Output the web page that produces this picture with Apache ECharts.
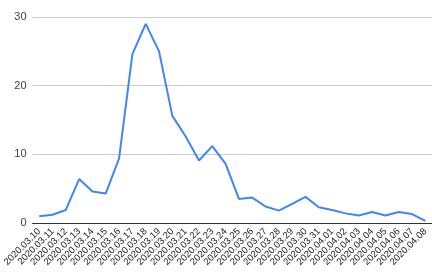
<!DOCTYPE html>
<html><head><meta charset="utf-8">
<script src="https://cdn.jsdelivr.net/npm/echarts@6/dist/echarts.min.js"></script>
<style>html,body{margin:0;padding:0;background:#fff}#c{width:432px;height:276px}</style>
</head><body><div id="c"></div>
<script>
var categories = ["2020.03.10","2020.03.11","2020.03.12","2020.03.13","2020.03.14","2020.03.15","2020.03.16","2020.03.17","2020.03.18","2020.03.19","2020.03.20","2020.03.21","2020.03.22","2020.03.23","2020.03.24","2020.03.25","2020.03.26","2020.03.27","2020.03.28","2020.03.29","2020.03.30","2020.03.31","2020.04.01","2020.04.02","2020.04.03","2020.04.04","2020.04.05","2020.04.06","2020.04.07","2020.04.08"];
var values = [1.0,1.2,1.9,6.4,4.6,4.3,9.4,24.6,29.0,25.0,15.6,12.6,9.1,11.2,8.6,3.5,3.7,2.4,1.8,2.8,3.8,2.3,1.9,1.4,1.1,1.6,1.1,1.6,1.3,0.3];
var yTicks = [0,10,20,30];
var chart = echarts.init(document.getElementById('c'));
chart.setOption({
  animation:false,
  grid:{left:28,right:0,top:17,bottom:53,containLabel:false},
  xAxis:{type:'category',data:categories,boundaryGap:true,
    axisLine:{lineStyle:{color:'#333',width:1}},
    axisTick:{show:false},
    axisLabel:{rotate:45,interval:0,fontSize:9.5,color:'#222',fontFamily:'Liberation Sans, Arial',margin:7}},
  yAxis:{type:'value',min:yTicks[0],max:yTicks[yTicks.length-1],interval:10,
    axisLine:{show:false},axisTick:{show:false},
    splitLine:{lineStyle:{color:'#ccc',width:1}},
    axisLabel:{fontSize:11,color:'#444',fontFamily:'Liberation Sans, Arial',margin:6}},
  series:[{type:'line',data:values,symbol:'none',lineStyle:{color:'#4285F4',width:2},itemStyle:{color:'#4285F4'}}]
});
</script></body></html>
